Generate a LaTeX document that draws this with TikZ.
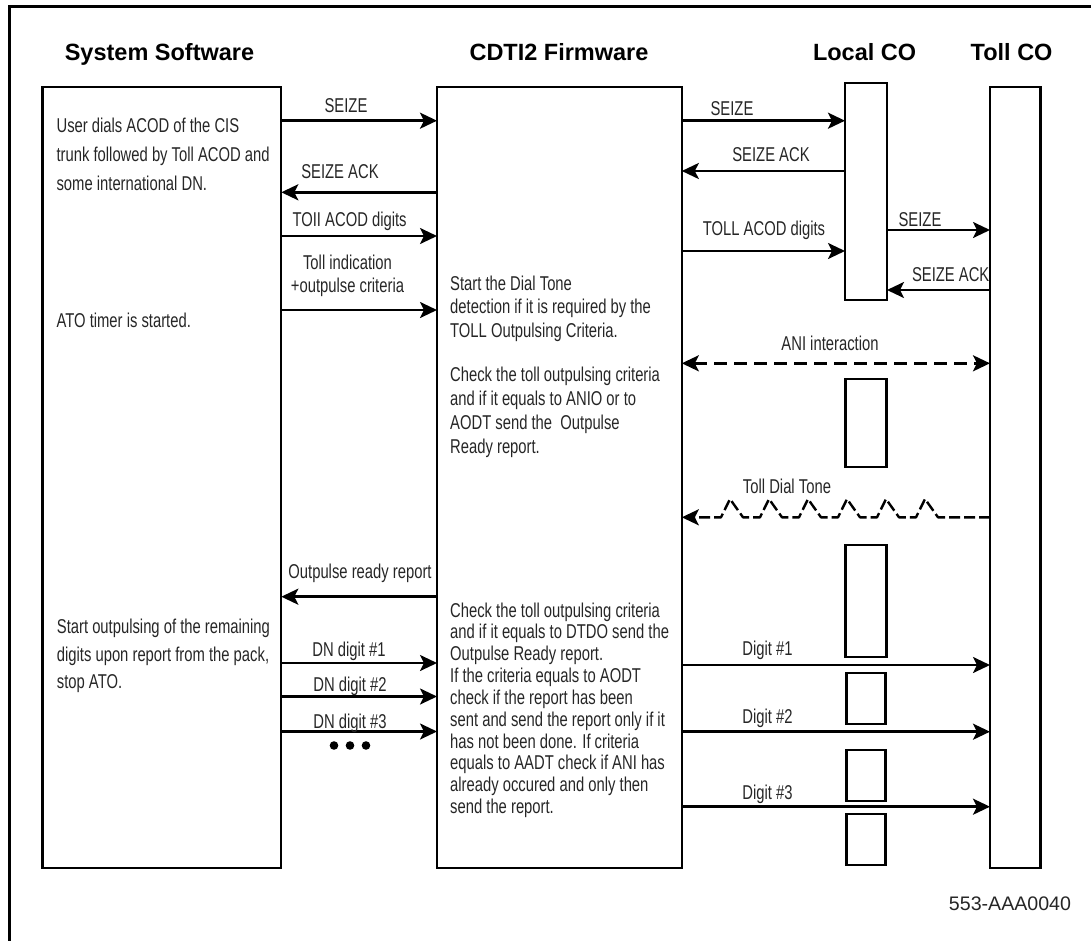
\documentclass[tikz,border=0pt]{standalone}
\usepackage{fontspec}
\setmainfont{Liberation Sans}
\newfontfamily\narrowfont[FakeStretch=0.74]{Liberation Sans}
\usepackage{tikz}
\usetikzlibrary{arrows.meta}

\tikzset{
  lifebox/.style={draw, line width=2.2bp, anchor=north west, inner sep=0pt, outer sep=0pt},
  msg/.style={line width=2.6bp, ->},
  lbl/.style={anchor=base, inner sep=0pt, text=black!85, font=\narrowfont\fontsize{20bp}{23.4bp}\selectfont},
  txt/.style={anchor=north west, align=left, inner sep=0pt, text=black!85},
  head/.style={anchor=base, inner sep=0pt, font=\bfseries\fontsize{23.5bp}{27bp}\selectfont}
}

\begin{document}
\begin{tikzpicture}[x=1bp,y=-1bp,>={Stealth[length=17bp,width=16bp,inset=4bp]}]
\useasboundingbox (0,0) rectangle (1091,941);

    % frame
    \draw[line width=3bp] (9.7,941) -- (9.7,6.3) -- (1091,6.3);

    % column titles
    \node[head] (hSys) at (159.5,60) {System Software};
    \node[head] (hFw) at (559,60) {CDTI2 Firmware};
    \node[head] (hLoc) at (864.6,60) {Local CO};
    \node[head] (hToll) at (1011.6,60) {Toll CO};

    % boxes
    \node[lifebox, minimum width=238.8bp, minimum height=781.3bp] (ss) at (42.5,87) {};
    \node[lifebox, minimum width=244.8bp, minimum height=781.3bp] (fw) at (437,87) {};
    \node[lifebox, minimum width=42bp, minimum height=216.7bp] (loc) at (845,83.3) {};
    \node[lifebox, minimum width=50.5bp, minimum height=781bp] (toll) at (990,87.3) {};
    \node[lifebox, minimum width=41bp, minimum height=88bp] (locA) at (845.5,379.3) {};
    \node[lifebox, minimum width=41bp, minimum height=112bp] (locB) at (845.5,545) {};
    \foreach \y/\n in {672.7/C,750/D,814/E}
        \node[lifebox, minimum width=39bp, minimum height=51bp] (loc\n) at (846.5,\y) {};

    % system software <-> firmware
    \draw[msg] (ss.east |- 0,120.7) -- (fw.west |- 0,120.7);
    \node[lbl] (lSeizeA) at (346,112.7) {SEIZE};
    \draw[msg] (fw.west |- 0,192.3) -- (ss.east |- 0,192.3);
    \node[lbl] (lAckA) at (340,178.3) {SEIZE ACK};
    \draw[msg] (ss.east |- 0,236) -- (fw.west |- 0,236);
    \node[lbl] (lTollA) at (349.6,226) {TOII ACOD digits};
    \draw[msg] (ss.east |- 0,310) -- (fw.west |- 0,310);
    \node[lbl, anchor=north, align=center] (lInd) at (347.5,254.9) {Toll indication\\+outpulse criteria};
    \draw[msg] (fw.west |- 0,596.7) -- (ss.east |- 0,596.7);
    \node[lbl] (lReady) at (360,578) {Outpulse ready report};
    \draw[msg] (ss.east |- 0,663) -- (fw.west |- 0,663);
    \node[lbl] (lDn1) at (349,656.7) {DN digit \#1};
    \draw[msg] (ss.east |- 0,696.5) -- (fw.west |- 0,696.5);
    \node[lbl] (lDn2) at (350,691.7) {DN digit \#2};
    \draw[msg] (ss.east |- 0,731.5) -- (fw.west |- 0,731.5);
    \node[lbl] (lDn3) at (350,728.3) {DN digit \#3};
    \foreach \x in {334,350,366}
        \fill (\x,745.5) circle (4.3);

    % firmware <-> local CO <-> toll CO
    \draw[msg] (fw.east |- 0,120.7) -- (loc.west |- 0,120.7);
    \node[lbl] (lSeizeB) at (732,115) {SEIZE};
    \draw[msg] (loc.west |- 0,171) -- (fw.east |- 0,171);
    \node[lbl] (lAckB) at (771,161.7) {SEIZE ACK};
    \draw[msg] (fw.east |- 0,251) -- (loc.west |- 0,251);
    \node[lbl] (lTollB) at (764,235) {TOLL ACOD digits};
    \draw[msg] (loc.east |- 0,230) -- (toll.west |- 0,230);
    \node[lbl] (lSeizeC) at (920,226.7) {SEIZE};
    \draw[msg] (toll.west |- 0,290) -- (loc.east |- 0,290);
    \node[lbl] (lAckC) at (950.7,281.7) {SEIZE ACK};

    \draw[msg, <->, dash pattern=on 13bp off 7bp] (fw.east |- 0,363.3) -- (toll.west |- 0,363.3);
    \node[lbl] (lAni) at (830,350.7) {ANI interaction};

    \draw[line width=2.4bp, dash pattern=on 11bp off 4bp, line join=round, ->] (toll.west |- 0,517.3)
        \foreach \p in {925,886,847,808,769,730} { -- (\p+13,517.3) -- (\p,499) -- (\p-9,517.3) }
        -- (fw.east |- 0,517.3);
    \node[lbl] (lTone) at (787,493.3) {Toll Dial Tone};

    \draw[msg] (fw.east |- 0,665) -- (toll.west |- 0,665);
    \node[lbl] (lDig1) at (767.5,655) {Digit \#1};
    \draw[msg] (fw.east |- 0,731.7) -- (toll.west |- 0,731.7);
    \node[lbl] (lDig2) at (767.5,723.3) {Digit \#2};
    \draw[msg] (fw.east |- 0,806.7) -- (toll.west |- 0,806.7);
    \node[lbl] (lDig3) at (767.5,799.3) {Digit \#3};

    % texts in the boxes
    \node[txt, font=\narrowfont\fontsize{20bp}{28.65bp}\selectfont] (tUser) at (56.4,118.3)
        {User dials ACOD of the CIS\\trunk followed by Toll ACOD and\\some international DN.};
    \node[txt, anchor=base west, font=\narrowfont\fontsize{20bp}{23bp}\selectfont] (tAto) at (56.4,327)
        {ATO timer is started.};
    \node[txt, font=\narrowfont\fontsize{20bp}{27.5bp}\selectfont] (tStart) at (56.7,618.9)
        {Start outpulsing of the remaining\\digits upon report from the pack,\\stop ATO.};
    \node[txt, font=\narrowfont\fontsize{20bp}{23.65bp}\selectfont] (tDial) at (450,275.6)
        {Start the Dial Tone\\detection if it is required by the\\TOLL Outpulsing Criteria.};
    \node[txt, font=\narrowfont\fontsize{20bp}{23.7bp}\selectfont] (tAnio) at (450,367.3)
        {Check the toll outpulsing criteria\\and if it equals to ANIO or to\\AODT send the\ \ Outpulse\\Ready report.};
    \node[txt, font=\narrowfont\fontsize{20bp}{21.85bp}\selectfont] (tDtdo) at (450,602.3)
        {Check the toll outpulsing criteria\\and if it equals to DTDO send the\\Outpulse Ready report.\\If the criteria equals to AODT\\check if the report has been\\sent and send the report only if it\\has not been done. If criteria\\equals to AADT check if ANI has\\already occured and only then\\send the report.};

    \node[anchor=base, inner sep=0pt, text=black!85, font=\fontsize{19.6bp}{23bp}\selectfont] (fig) at (1010,910) {553-AAA0040};

\end{tikzpicture}
\end{document}
